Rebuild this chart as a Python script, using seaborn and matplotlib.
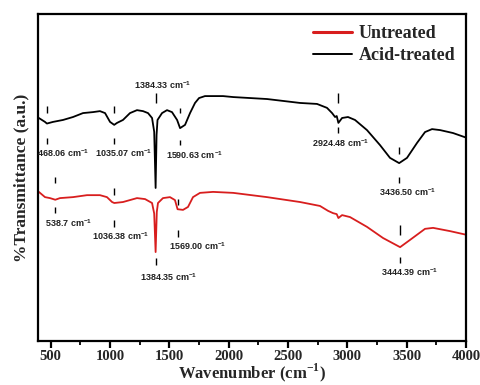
import matplotlib
matplotlib.use("Agg")
import matplotlib.pyplot as plt
from matplotlib.lines import Line2D
from matplotlib.ticker import MultipleLocator
import pandas as pd
import seaborn as sns

# FTIR spectra (wavenumber in cm^-1, transmittance in arbitrary units)
acid_wn = [400, 452, 468, 519, 604, 688, 772, 856, 915, 958, 1000, 1035, 1059,
           1109, 1168, 1227, 1278, 1320, 1354, 1372, 1384, 1392, 1400, 1438,
           1480, 1522, 1565, 1590, 1632, 1674, 1716, 1750, 1800, 1952, 2038,
           2323, 2601, 2744, 2828, 2871, 2896, 2910, 2924, 2955, 3005, 3064,
           3165, 3275, 3359, 3436, 3502, 3587, 3654, 3713, 3781, 3890, 4000]
acid_t = [68.2, 67.0, 66.5, 67.0, 67.6, 68.5, 69.7, 70.0, 70.3, 69.7, 67.0, 66.1,
          66.7, 67.6, 69.7, 70.6, 70.3, 69.7, 68.2, 64.0, 46.8, 63.0, 67.6, 69.7,
          70.6, 70.0, 67.6, 65.1, 66.1, 69.7, 72.8, 74.3, 74.9, 74.9, 74.6,
          74.0, 72.8, 72.5, 71.3, 69.7, 68.5, 68.8, 66.7, 68.2, 68.5, 67.6,
          64.5, 59.9, 56.0, 54.4, 56.0, 60.6, 63.9, 64.8, 64.5, 63.6, 62.2]

untreated_wn = [400, 452, 494, 538.7, 578, 688, 806, 915, 974, 1017, 1036, 1109,
                1168, 1227, 1295, 1354, 1372, 1384, 1394, 1404, 1446, 1505, 1547,
                1569, 1615, 1657, 1699, 1758, 1868, 2038, 2323, 2601, 2769, 2837,
                2879, 2910, 2924, 2955, 3022, 3165, 3300, 3444, 3527, 3654, 3722,
                3865, 4000]
untreated_t = [45.6, 44.0, 43.7, 43.2, 43.7, 44.0, 44.6, 44.6, 44.0, 42.5, 42.2, 42.5,
               43.1, 43.7, 43.4, 42.2, 39.0, 27.2, 39.5, 42.2, 43.7, 44.0, 43.1,
               40.3, 40.1, 41.0, 44.0, 45.3, 45.6, 45.3, 44.0, 42.5, 41.3, 39.8,
               39.1, 38.8, 37.6, 38.5, 37.9, 34.9, 31.5, 28.7, 30.9, 34.3, 34.6,
               33.6, 32.5]

# Peak positions and their labels
acid_peaks = ["468.06", "1035.07", "1384.33", "1590.63", "2924.48", "3436.50"]
acid_peak_wn = [468.06, 1035.07, 1384.33, 1590.63, 2924.48, 3436.50]
untreated_peaks = ["538.7", "1036.38", "1384.35", "1569.00", "3444.39"]
untreated_peak_wn = [538.7, 1036.38, 1384.35, 1569.00, 3444.39]

df = pd.concat([
    pd.DataFrame({"wn": untreated_wn, "t": untreated_t, "sample": "Untreated"}),
    pd.DataFrame({"wn": acid_wn, "t": acid_t, "sample": "Acid-treated"}),
])

sns.set_style("ticks")
plt.rcParams["font.family"] = ["Liberation Serif", "DejaVu Serif"]

fig = plt.figure(figsize=(4.81, 3.85), dpi=100)
ax = fig.add_axes([0.079, 0.1143, 0.89, 0.8493])

red = "#d81e1e"
sns.lineplot(data=df, x="wn", y="t", hue="sample",
             palette={"Untreated": red, "Acid-treated": "black"},
             sort=False, estimator=None, linewidth=1.3, legend=False, ax=ax)

ax.set_xlim(393, 4000)
ax.set_ylim(0, 100)

# short dash markers above/below each band, with the band position written next to it
sans = ["Liberation Sans", "DejaVu Sans"]
mark_kw = dict(colors="black", linewidth=1.0)
lab_kw = dict(fontsize=6.5, fontweight="bold", color="#222222", ha="center",
              va="center", family=sans)

acid_up = [(71.9, 69.7), (71.9, 69.7), (75.8, 72.8), (71.3, 69.7), (75.8, 72.8), (59.3, 57.2)]
acid_lo = [(62.1, 60.2), (62.1, 60.2), None, (61.5, 59.9), (65.4, 63.6), (50.2, 48.3)]
acid_lab = [(604, 57.5), (1117, 57.5), (1446, 78.3), (1708, 56.9), (2946, 60.6), (3511, 45.6)]
for name, wn, up, lo, (lx, ly) in zip(acid_peaks, acid_peak_wn, acid_up, acid_lo, acid_lab):
    ax.vlines(wn, up[1], up[0], **mark_kw)
    if lo:
        ax.vlines(wn, lo[1], lo[0], **mark_kw)
    ax.text(lx, ly, name + r" cm$^{\mathregular{-1}}$", **lab_kw)

un_up = [(50.2, 48.3), (46.8, 44.6), None, (43.4, 41.6), (35.5, 32.4)]
un_lo = [(41.0, 39.1), (37.0, 34.9), (25.4, 23.2), (33.9, 31.8), (25.7, 23.9)]
un_lab = [(654, 36.1), (1092, 32.1), (1497, 19.6), (1741, 29.1), (3527, 21.1)]
for name, wn, up, lo, (lx, ly) in zip(untreated_peaks, untreated_peak_wn, un_up, un_lo, un_lab):
    if up:
        ax.vlines(wn, up[1], up[0], **mark_kw)
    ax.vlines(wn, lo[1], lo[0], **mark_kw)
    ax.text(lx, ly, name + r" cm$^{\mathregular{-1}}$", **lab_kw)

# frame and ticks
for s in ax.spines.values():
    s.set_linewidth(1.6)
    s.set_color("black")
ax.xaxis.set_major_locator(MultipleLocator(500))
ax.xaxis.set_minor_locator(MultipleLocator(250))
ax.tick_params(axis="x", which="major", direction="out", length=5, width=1.6,
               labelsize=10.5, pad=1.5, bottom=True, top=False, color="black")
ax.tick_params(axis="x", which="minor", direction="out", length=3, width=1.3,
               bottom=True, top=False, color="black")
ax.tick_params(axis="y", left=False, right=False, labelleft=False)
for lab in ax.get_xticklabels():
    lab.set_fontweight("bold")

ax.set_xlabel(r"Wavenumber (cm$^{\mathregular{-1}}$)", fontsize=12, fontweight="bold", va="bottom")
ax.xaxis.set_label_coords(0.5, -0.133)
ax.set_ylabel("%Transmittance (a.u.)", fontsize=12.5, fontweight="bold", labelpad=6)

handles = [Line2D([], [], color=red, linewidth=2.2), Line2D([], [], color="black", linewidth=1.4)]
ax.legend(handles, ["Untreated", "Acid-treated"], loc="upper right", frameon=False,
          prop={"family": "Liberation Serif", "weight": "bold", "size": 13},
          handlelength=2.2, handletextpad=0.35, labelspacing=0.3,
          borderaxespad=0.2, bbox_to_anchor=(1.0, 1.0))

fig.savefig("out.png", dpi=100)
